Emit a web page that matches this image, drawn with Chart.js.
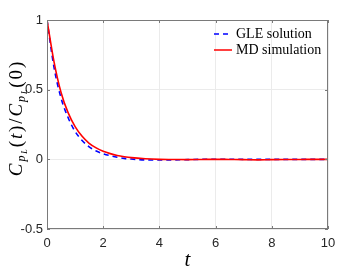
<!DOCTYPE html>
<html>
<head>
<meta charset="utf-8">
<script src="https://cdn.jsdelivr.net/npm/chart.js@4/dist/chart.umd.min.js"></script>
<style>
  html, body { margin: 0; padding: 0; background: #fff; }
  #wrap { width: 363px; height: 273px; position: relative; }
</style>
</head>
<body>
<div id="wrap"><canvas id="chart_corr"></canvas></div>
<script>
// time axis (shared by both curves)
const t_vals = [0, 0.25, 0.5, 0.75, 1, 1.25, 1.5, 1.75, 2, 2.25, 2.5, 2.75, 3, 3.5, 4, 4.5, 5, 5.5, 6, 6.5, 7, 7.5, 8, 8.5, 9, 9.5, 10];
// GLE solution (blue dashed)
const gle_vals = [1, 0.66, 0.44, 0.30, 0.20, 0.135, 0.09, 0.06, 0.04, 0.026, 0.015, 0.007, 0.002, -0.004, -0.005, -0.004, -0.002, 0.0, 0.001, 0.001, 0.0, 0.0, 0.0, 0.0, 0.0, 0.0, 0.0];
// MD simulation (red solid)
const md_vals = [1, 0.70, 0.48, 0.335, 0.235, 0.165, 0.115, 0.082, 0.058, 0.041, 0.028, 0.019, 0.012, 0.004, 0.0, -0.001, -0.002, -0.001, 0.0, -0.001, -0.002, -0.004, -0.002, -0.001, -0.001, 0.0, 0.0];

const x_ticks = [0, 2, 4, 6, 8, 10];
const y_ticks = [-0.5, 0, 0.5, 1];
const legend_labels = ['GLE solution', 'MD simulation'];

function toPoints(xs, ys){
  return xs.map((x, i) => ({x: x, y: ys[i]}));
}

const axis_color = '#7a7a7a';
const grid_color = '#ebebeb';

// box, inward ticks, legend and y title
const decorPlugin = {
  id: 'decor',
  afterDraw(chart){
    const ctx = chart.ctx;
    const a = chart.chartArea;
    const xs = chart.scales.x, ys = chart.scales.y;
    ctx.save();
    ctx.strokeStyle = axis_color;
    ctx.lineWidth = 1;
    ctx.strokeRect(a.left + 0.5, a.top + 0.5, a.right - a.left - 1, a.bottom - a.top - 1);
    // inward ticks
    for (const v of x_ticks){
      const px = Math.round(xs.getPixelForValue(v)) + 0.5;
      ctx.beginPath();
      ctx.moveTo(px, a.bottom); ctx.lineTo(px, a.bottom - 3);
      ctx.moveTo(px, a.top); ctx.lineTo(px, a.top + 3);
      ctx.stroke();
    }
    for (const v of y_ticks){
      const py = Math.round(ys.getPixelForValue(v)) + 0.5;
      ctx.beginPath();
      ctx.moveTo(a.left, py); ctx.lineTo(a.left + 3, py);
      ctx.moveTo(a.right, py); ctx.lineTo(a.right - 3, py);
      ctx.stroke();
    }
    // legend
    const ds = chart.data.datasets;
    ctx.font = '14px "Liberation Serif"';
    ctx.textBaseline = 'middle';
    ctx.fillStyle = '#000';
    const rows = [34, 50];
    for (let i = 0; i < 2; i++){
      ctx.beginPath();
      ctx.strokeStyle = ds[i].borderColor;
      ctx.lineWidth = 1.5;
      ctx.setLineDash(ds[i].borderDash || []);
      ctx.moveTo(214, rows[i]); ctx.lineTo(232, rows[i]);
      ctx.stroke();
      ctx.setLineDash([]);
      ctx.fillText(legend_labels[i], 236, rows[i]);
    }
    // y axis title: C_{p_L}(t)/C_{p_L}(0)
    ctx.translate(22, 118);
    ctx.rotate(-Math.PI / 2);
    const big = '19px "Liberation Serif"';
    const bigI = 'italic 19px "Liberation Serif"';
    const sub = 'italic 12px "Liberation Serif"';
    const sub2 = 'italic 8px "Liberation Serif"';
    const gap = 1.9;
    const parts = [
      [bigI, 'C', 0], [sub, 'p', 3], [sub2, 'L', 5],
      [big, '(', 0], [bigI, 't', 0], [big, ')', 0], [big, '/', 0],
      [bigI, 'C', 0], [sub, 'p', 3], [sub2, 'L', 5],
      [big, '(', 0], [big, '0', 0], [big, ')', 0]
    ];
    let w = 0;
    for (const p of parts){ ctx.font = p[0]; w += ctx.measureText(p[1]).width + gap; }
    let x = -w / 2;
    ctx.textBaseline = 'alphabetic';
    for (const p of parts){
      ctx.font = p[0];
      ctx.fillText(p[1], x, p[2]);
      x += ctx.measureText(p[1]).width + gap;
    }
    ctx.restore();
  }
};

const config = {
  type: 'line',
  data: {
    datasets: [{
      label: legend_labels[0],
      data: toPoints(t_vals, gle_vals),
      borderColor: '#0000ff',
      borderWidth: 1.6,
      borderDash: [5, 4],
      pointRadius: 0,
      cubicInterpolationMode: 'monotone',
      order: 1
    }, {
      label: legend_labels[1],
      data: toPoints(t_vals, md_vals),
      borderColor: '#ff0000',
      borderWidth: 1.6,
      pointRadius: 0,
      cubicInterpolationMode: 'monotone',
      order: 0
    }]
  },
  options: {
    responsive: false,
    animation: false,
    layout: { padding: { top: 20, right: 35, left: 0, bottom: 0 } },
    plugins: { legend: { display: false }, tooltip: { enabled: false } },
    scales: {
      x: {
        type: 'linear',
        min: 0, max: 10,
        afterBuildTicks: (s) => { s.ticks = x_ticks.map(v => ({value: v})); },
        afterFit: (s) => { s.height = 44; },
        grid: { color: grid_color, drawTicks: false },
        border: { display: false },
        ticks: { color: '#262626', padding: 7, font: { family: 'Liberation Sans', size: 13 } },
        title: { display: true, text: 't', color: '#000', padding: 0,
                 font: { family: 'Liberation Serif', style: 'italic', size: 21 } }
      },
      y: {
        min: -0.5, max: 1,
        afterBuildTicks: (s) => { s.ticks = y_ticks.map(v => ({value: v})); },
        afterFit: (s) => { s.width = 47; },
        grid: { color: grid_color, drawTicks: false },
        border: { display: false },
        ticks: { color: '#262626', padding: 4, font: { family: 'Liberation Sans', size: 13 },
                 callback: (v) => String(v) }
      }
    }
  },
  plugins: [decorPlugin]
};

const canvas = document.getElementById('chart_corr');
canvas.width = 363;
canvas.height = 273;
window.corrChart = new Chart(canvas, config);
</script>
</body>
</html>
